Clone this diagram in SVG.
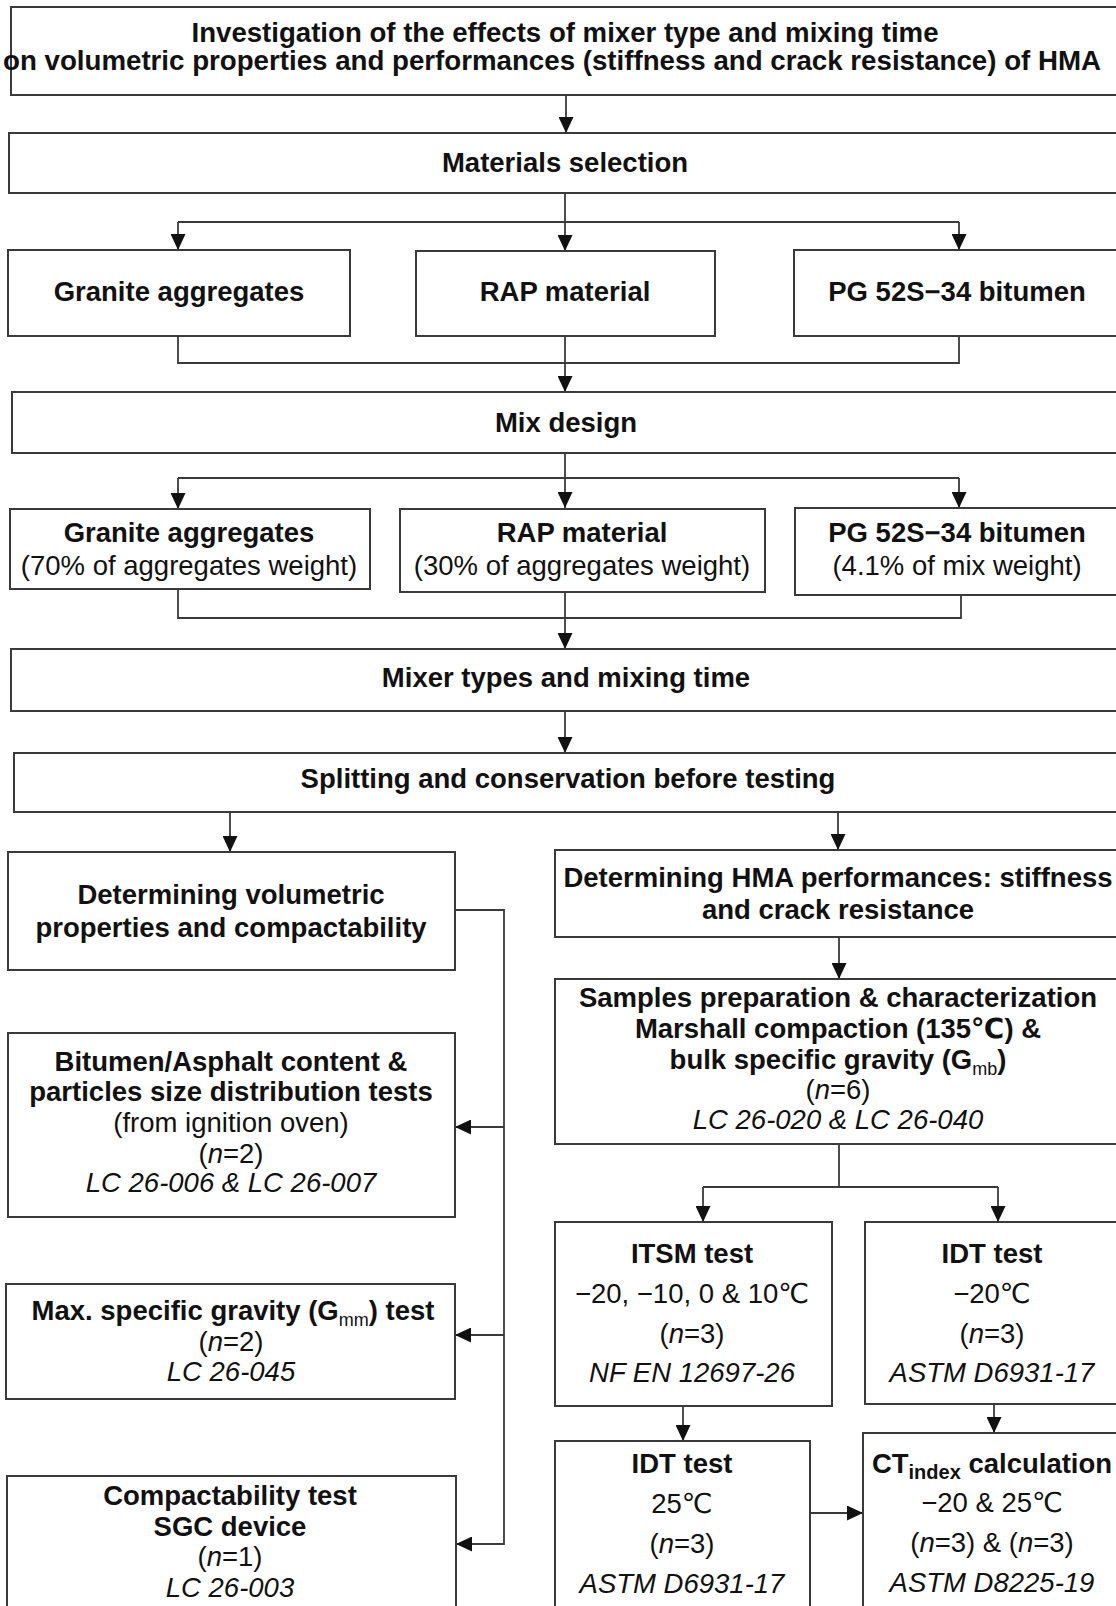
<svg xmlns="http://www.w3.org/2000/svg" width="1116" height="1606" viewBox="0 0 1116 1606">
<style>
.box{fill:#fff;stroke:#3a3a3a;stroke-width:2}
.ln{fill:none;stroke:#3a3a3a;stroke-width:1.8}
.ar{marker-end:url(#ah)}
text{font-family:"Liberation Sans",Arial,"DejaVu Sans",sans-serif;font-size:27.5px;text-anchor:middle;fill:#111}
.b{font-weight:bold}
.i{font-style:italic}
.t{font-size:27px;font-weight:bold}
.s{font-size:18px;font-weight:normal}
.sb{font-size:20px;font-weight:bold}
</style>
<defs>
<marker id="ah" viewBox="0 0 16 15" refX="16" refY="7.5" markerWidth="16" markerHeight="15" markerUnits="userSpaceOnUse" orient="auto">
<path d="M0,0 L16,7.5 L0,15 z" fill="#111"/>
</marker>
</defs>
<g id="connectors">
<path class="ln ar" d="M566,95 V133"/>
<path class="ln ar" d="M565,193 V251"/>
<path class="ln" d="M178,222 H959"/>
<path class="ln ar" d="M178,222 V250"/>
<path class="ln ar" d="M959,222 V250"/>
<path class="ln" d="M178,336 V363 H959 V336"/>
<path class="ln ar" d="M565,336 V392"/>
<path class="ln ar" d="M565,453 V508"/>
<path class="ln" d="M178,478 H959"/>
<path class="ln ar" d="M178,478 V509"/>
<path class="ln ar" d="M959,478 V508"/>
<path class="ln" d="M178,589 V618 H961 V595"/>
<path class="ln ar" d="M565,592 V649"/>
<path class="ln ar" d="M565,711 V753"/>
<path class="ln ar" d="M230,812 V852"/>
<path class="ln ar" d="M838,812 V850"/>
<path class="ln ar" d="M455,910 H504 V1544 H456"/>
<path class="ln ar" d="M504,1127 H455"/>
<path class="ln ar" d="M504,1335 H455"/>
<path class="ln ar" d="M839,937 V979"/>
<path class="ln" d="M839,1144 V1187"/>
<path class="ln" d="M703,1187 H998"/>
<path class="ln ar" d="M703,1187 V1222"/>
<path class="ln ar" d="M998,1187 V1222"/>
<path class="ln ar" d="M683,1406 V1441"/>
<path class="ln ar" d="M994,1404 V1433"/>
<path class="ln ar" d="M810,1513 H863"/>
</g>
<g id="title">
<rect class="box" x="11" y="7" width="1112" height="88"/>
<text class="t" x="565" y="42" textLength="747" lengthAdjust="spacingAndGlyphs">Investigation of the effects of mixer type and mixing time</text>
<text class="t" x="552" y="70" textLength="1098" lengthAdjust="spacingAndGlyphs">on volumetric properties and performances (stiffness and crack resistance) of HMA</text>
</g>
<g id="materials">
<rect class="box" x="9" y="133" width="1114" height="60"/>
<text class="b" x="565" y="172">Materials selection</text>
</g>
<g id="granite1">
<rect class="box" x="8" y="250" width="342" height="86"/>
<text class="b" x="179" y="301">Granite aggregates</text>
</g>
<g id="rap1">
<rect class="box" x="416" y="251" width="299" height="85"/>
<text class="b" x="565" y="301">RAP material</text>
</g>
<g id="pg1">
<rect class="box" x="794" y="250" width="330" height="86"/>
<text class="b" x="957" y="301">PG 52S−34 bitumen</text>
</g>
<g id="mixdesign">
<rect class="box" x="12" y="392" width="1112" height="61"/>
<text class="b" x="566" y="432">Mix design</text>
</g>
<g id="granite2">
<rect class="box" x="10" y="509" width="360" height="80"/>
<text class="b" x="189" y="542">Granite aggregates</text>
<text x="189" y="575">(70% of aggregates weight)</text>
</g>
<g id="rap2">
<rect class="box" x="400" y="509" width="365" height="83"/>
<text class="b" x="582" y="542">RAP material</text>
<text x="582" y="575">(30% of aggregates weight)</text>
</g>
<g id="pg2">
<rect class="box" x="795" y="508" width="330" height="87"/>
<text class="b" x="957" y="542">PG 52S−34 bitumen</text>
<text x="957" y="575">(4.1% of mix weight)</text>
</g>
<g id="mixer">
<rect class="box" x="11" y="649" width="1112" height="62"/>
<text class="b" x="566" y="687">Mixer types and mixing time</text>
</g>
<g id="splitting">
<rect class="box" x="14" y="753" width="1110" height="59"/>
<text class="b" x="568" y="788">Splitting and conservation before testing</text>
</g>
<g id="volumetric">
<rect class="box" x="8" y="852" width="447" height="118"/>
<text class="b" x="231" y="904">Determining volumetric</text>
<text class="b" x="231" y="937">properties and compactability</text>
</g>
<g id="hma">
<rect class="box" x="555" y="850" width="568" height="87"/>
<text class="b" x="838" y="887">Determining HMA performances: stiffness</text>
<text class="b" x="838" y="919">and crack resistance</text>
</g>
<g id="bitumen">
<rect class="box" x="8" y="1033" width="447" height="184"/>
<text class="b" x="231" y="1071">Bitumen/Asphalt content &amp;</text>
<text class="b" x="231" y="1101">particles size distribution tests</text>
<text x="231" y="1132">(from ignition oven)</text>
<text x="231" y="1163">(<tspan class="i">n</tspan>=2)</text>
<text class="i" x="231" y="1192">LC 26-006 &amp; LC 26-007</text>
</g>
<g id="maxsg">
<rect class="box" x="6" y="1284" width="449" height="115"/>
<text class="b" x="233" y="1320">Max. specific gravity (G<tspan class="s" dy="6">mm</tspan><tspan dy="-6">) test</tspan></text>
<text x="231" y="1351">(<tspan class="i">n</tspan>=2)</text>
<text class="i" x="231" y="1381">LC 26-045</text>
</g>
<g id="compact">
<rect class="box" x="7" y="1476" width="449" height="150"/>
<text class="b" x="230" y="1505">Compactability test</text>
<text class="b" x="230" y="1536">SGC device</text>
<text x="230" y="1566">(<tspan class="i">n</tspan>=1)</text>
<text class="i" x="230" y="1597">LC 26-003</text>
</g>
<g id="samples">
<rect class="box" x="555" y="979" width="568" height="165"/>
<text class="b" x="838" y="1007">Samples preparation &amp; characterization</text>
<text class="b" x="838" y="1038">Marshall compaction (135℃) &amp;</text>
<text class="b" x="838" y="1069">bulk specific gravity (G<tspan class="s" dy="6">mb</tspan><tspan dy="-6">)</tspan></text>
<text x="838" y="1099">(<tspan class="i">n</tspan>=6)</text>
<text class="i" x="838" y="1129">LC 26-020 &amp; LC 26-040</text>
</g>
<g id="itsm">
<rect class="box" x="555" y="1222" width="277" height="184"/>
<text class="b" x="692" y="1263">ITSM test</text>
<text x="692" y="1303">−20, −10, 0 &amp; 10℃</text>
<text x="692" y="1343">(<tspan class="i">n</tspan>=3)</text>
<text class="i" x="692" y="1382">NF EN 12697-26</text>
</g>
<g id="idt1">
<rect class="box" x="865" y="1222" width="260" height="182"/>
<text class="b" x="992" y="1263">IDT test</text>
<text x="992" y="1303">−20℃</text>
<text x="992" y="1343">(<tspan class="i">n</tspan>=3)</text>
<text class="i" x="992" y="1382">ASTM D6931-17</text>
</g>
<g id="idt2">
<rect class="box" x="555" y="1441" width="255" height="185"/>
<text class="b" x="682" y="1473">IDT test</text>
<text x="682" y="1513">25℃</text>
<text x="682" y="1553">(<tspan class="i">n</tspan>=3)</text>
<text class="i" x="682" y="1593">ASTM D6931-17</text>
</g>
<g id="ctindex">
<rect class="box" x="863" y="1433" width="262" height="193"/>
<text class="b" x="992" y="1473">CT<tspan class="sb" dy="6">index</tspan><tspan dy="-6"> calculation</tspan></text>
<text x="992" y="1512">−20 &amp; 25℃</text>
<text x="992" y="1552">(<tspan class="i">n</tspan>=3) &amp; (<tspan class="i">n</tspan>=3)</text>
<text class="i" x="992" y="1592">ASTM D8225-19</text>
</g>
</svg>
